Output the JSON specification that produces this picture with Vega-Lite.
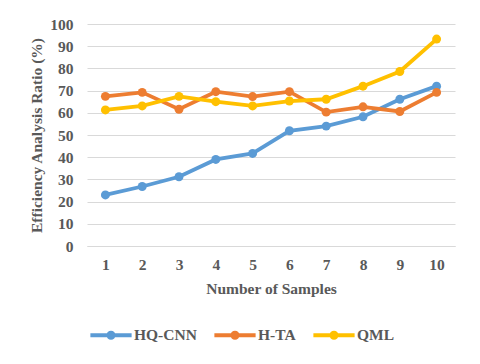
{
  "$schema": "https://vega.github.io/schema/vega-lite/v6.json",
  "width": 368,
  "height": 222,
  "autosize": {"type": "none"},
  "padding": {"left": 87, "top": 24, "right": 25, "bottom": 118},
  "background": "white",
  "config": {
    "view": {"stroke": null},
    "font": "Liberation Serif",
    "axis": {
      "labelFont": "Liberation Serif",
      "titleFont": "Liberation Serif",
      "labelFontWeight": "bold",
      "titleFontWeight": "bold",
      "labelColor": "#595959",
      "titleColor": "#595959",
      "labelFontSize": 15.5,
      "titleFontSize": 15.5
    },
    "legend": {
      "labelFont": "Liberation Serif",
      "labelFontWeight": "bold",
      "labelColor": "#595959",
      "labelFontSize": 15.5
    }
  },
  "data": {
    "values": [
      {"sample": 1, "method": "HQ-CNN", "ratio": 23},
      {"sample": 2, "method": "HQ-CNN", "ratio": 26.8},
      {"sample": 3, "method": "HQ-CNN", "ratio": 31.2},
      {"sample": 4, "method": "HQ-CNN", "ratio": 39},
      {"sample": 5, "method": "HQ-CNN", "ratio": 41.7},
      {"sample": 6, "method": "HQ-CNN", "ratio": 51.9},
      {"sample": 7, "method": "HQ-CNN", "ratio": 54},
      {"sample": 8, "method": "HQ-CNN", "ratio": 58.2},
      {"sample": 9, "method": "HQ-CNN", "ratio": 66.1},
      {"sample": 10, "method": "HQ-CNN", "ratio": 72},
      {"sample": 1, "method": "H-TA", "ratio": 67.4},
      {"sample": 2, "method": "H-TA", "ratio": 69.2},
      {"sample": 3, "method": "H-TA", "ratio": 61.6},
      {"sample": 4, "method": "H-TA", "ratio": 69.5},
      {"sample": 5, "method": "H-TA", "ratio": 67.3},
      {"sample": 6, "method": "H-TA", "ratio": 69.5},
      {"sample": 7, "method": "H-TA", "ratio": 60.3},
      {"sample": 8, "method": "H-TA", "ratio": 62.7},
      {"sample": 9, "method": "H-TA", "ratio": 60.6},
      {"sample": 10, "method": "H-TA", "ratio": 69.2},
      {"sample": 1, "method": "QML", "ratio": 61.3},
      {"sample": 2, "method": "QML", "ratio": 63.1},
      {"sample": 3, "method": "QML", "ratio": 67.4},
      {"sample": 4, "method": "QML", "ratio": 65},
      {"sample": 5, "method": "QML", "ratio": 63.1},
      {"sample": 6, "method": "QML", "ratio": 65.3},
      {"sample": 7, "method": "QML", "ratio": 66.1},
      {"sample": 8, "method": "QML", "ratio": 72},
      {"sample": 9, "method": "QML", "ratio": 78.6},
      {"sample": 10, "method": "QML", "ratio": 93.2}
    ]
  },
  "encoding": {
    "x": {
      "field": "sample",
      "type": "ordinal",
      "title": "Number of Samples",
      "scale": {"type": "point", "padding": 0.5},
      "axis": {
        "labelAngle": 0,
        "ticks": false,
        "domain": true,
        "domainColor": "#D9D9D9",
        "domainWidth": 1,
        "labelPadding": 11,
        "titlePadding": 9,
        "grid": false
      }
    },
    "y": {
      "field": "ratio",
      "type": "quantitative",
      "title": "Efficiency Analysis Ratio (%)",
      "scale": {"domain": [0, 100], "nice": false, "zero": true},
      "axis": {
        "values": [0, 10, 20, 30, 40, 50, 60, 70, 80, 90, 100],
        "grid": true,
        "gridColor": "#D9D9D9",
        "gridWidth": 1,
        "domain": false,
        "ticks": false,
        "labelPadding": 14,
        "titlePadding": 5
      }
    },
    "color": {
      "field": "method",
      "type": "nominal",
      "sort": ["HQ-CNN", "H-TA", "QML"],
      "scale": {"domain": ["HQ-CNN", "H-TA", "QML"], "range": ["#5B9BD5", "#ED7D31", "#FFC000"]},
      "legend": {
        "orient": "none",
        "direction": "horizontal",
        "legendX": 3,
        "legendY": 290,
        "title": null,
        "symbolType": "M-1,-0.1L1,-0.1L1,0.1L-1,0.1Z M-0.22,0A0.22,0.22 0 1,1 0.22,0A0.22,0.22 0 1,1 -0.22,0Z",
        "symbolSize": 1700,
        "symbolStrokeWidth": 0,
        "symbolOpacity": 1,
        "labelOffset": 2,
        "columnPadding": 17
      }
    }
  },
  "layer": [
    {"mark": {"type": "line", "strokeWidth": 3.8}},
    {"mark": {"type": "circle", "size": 80, "opacity": 1}}
  ]
}
